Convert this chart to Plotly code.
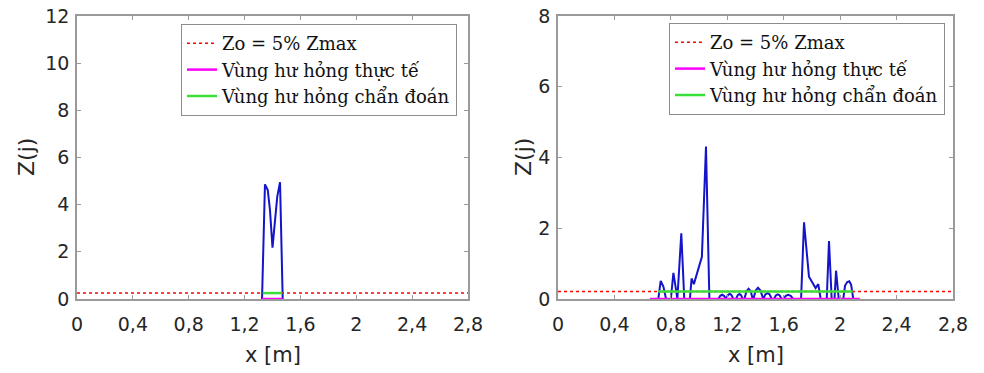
import plotly.graph_objects as go

# ---------------- data ----------------
x_ticks = [0, 0.4, 0.8, 1.2, 1.6, 2.0, 2.4, 2.8]
x_tick_labels = ["0", "0,4", "0,8", "1,2", "1,6", "2", "2,4", "2,8"]
y_ticks_left = [0, 2, 4, 6, 8, 10, 12]
y_ticks_right = [0, 2, 4, 6, 8]

# left panel: damage index Z(j) (zero elsewhere, hidden under the axis)
x_left = [1.325, 1.346, 1.366, 1.382, 1.400, 1.418, 1.434, 1.454, 1.473]
z_left = [0, 4.86, 4.62, 3.77, 2.18, 3.35, 4.34, 4.95, 0]
zo_left = 0.25
actual_left = [1.325, 1.473]
diag_left = [1.33, 1.47]

# right panel: damage index Z(j)
x_right = [0.711, 0.728, 0.747, 0.766, 0.800, 0.818, 0.837, 0.846, 0.874, 0.895,
           0.935, 0.947, 0.963, 1.006, 1.020, 1.049, 1.073,
           1.136, 1.150, 1.163, 1.177, 1.191, 1.204, 1.217, 1.230, 1.243,
           1.262, 1.274, 1.286, 1.298, 1.309,
           1.321, 1.336, 1.351, 1.366, 1.380,
           1.385, 1.401, 1.418, 1.435, 1.451,
           1.455, 1.470, 1.485, 1.500, 1.515,
           1.531, 1.544, 1.558, 1.572, 1.585,
           1.597, 1.615, 1.632, 1.650, 1.668,
           1.723, 1.744, 1.779, 1.810, 1.826, 1.845, 1.862,
           1.905, 1.921, 1.940, 1.960, 1.971, 1.990,
           2.022, 2.035, 2.050, 2.065, 2.078, 2.093]
z_right = [0, 0.51, 0.35, 0, 0, 0.74, 0.25, 0, 1.86, 0,
           0, 0.58, 0.42, 1.01, 1.19, 4.31, 0,
           0, 0.09, 0.12, 0.09, 0, 0.11, 0.15, 0.11, 0,
           0, 0.11, 0.14, 0.11, 0,
           0, 0.22, 0.29, 0.22, 0,
           0, 0.24, 0.32, 0.24, 0,
           0, 0.13, 0.17, 0.13, 0,
           0, 0.10, 0.13, 0.10, 0,
           0, 0.09, 0.12, 0.09, 0,
           0, 2.17, 0.63, 0.42, 0.31, 0.42, 0,
           0, 1.64, 0, 0, 0.80, 0,
           0, 0.38, 0.48, 0.50, 0.40, 0]
zo_right = 0.215
actual_right = [0.652, 2.14]
diag_right = [0.711, 2.089]

legend_names = ["Zo = 5% Zmax", "Vùng hư hỏng thực tế", "Vùng hư hỏng chẩn đoán"]

# ---------------- styles ----------------
BLUE = "#1414c8"
RED = "#ff0000"
MAGENTA = "#ff00ff"
GREEN = "#3ae03a"
AXIS = "#9a9a9a"
TICKC = "#262626"
SANS = "DejaVu Sans, Arial, sans-serif"
SERIF = "DejaVu Serif, Times New Roman, serif"

fig = go.Figure()

panels = [
    ("x", "y", "legend", x_left, z_left, zo_left, actual_left, diag_left),
    ("x2", "y2", "legend2", x_right, z_right, zo_right, actual_right, diag_right),
]
for xa, ya, lg, xs, zs, zo, act, dia in panels:
    fig.add_trace(go.Scatter(x=xs, y=zs, mode="lines", xaxis=xa, yaxis=ya,
                             line=dict(color=BLUE, width=2), showlegend=False))
    fig.add_trace(go.Scatter(x=[x_ticks[0], x_ticks[-1]], y=[zo, zo], mode="lines",
                             xaxis=xa, yaxis=ya, name=legend_names[0], legend=lg,
                             line=dict(color=RED, width=1.5, dash="dot")))
    fig.add_trace(go.Scatter(x=act, y=[0, 0], mode="lines", xaxis=xa, yaxis=ya,
                             name=legend_names[1], legend=lg, cliponaxis=False,
                             line=dict(color=MAGENTA, width=2.5)))
    fig.add_trace(go.Scatter(x=dia, y=[zo, zo], mode="lines", xaxis=xa, yaxis=ya,
                             name=legend_names[2], legend=lg,
                             line=dict(color=GREEN, width=2.5)))

W, H = 984, 373
T, B = 16, 74
PH = H - T - B


def xdom(a, b):
    return [a / W, b / W]


common_x = dict(range=[0, 2.8], tickvals=x_ticks, ticktext=x_tick_labels,
                showline=True, linecolor=AXIS, linewidth=1.5, mirror="ticks",
                ticks="inside", ticklen=4, tickcolor=AXIS, showgrid=False,
                zeroline=False, tickfont=dict(family=SANS, size=19, color=TICKC),
                ticklabelstandoff=7, automargin=False, fixedrange=True)
common_y = dict(showline=True, linecolor=AXIS, linewidth=1.5, mirror="ticks",
                ticks="inside", ticklen=4, tickcolor=AXIS, showgrid=False,
                zeroline=False, tickfont=dict(family=SANS, size=19, color=TICKC),
                ticklabelstandoff=2, automargin=False, fixedrange=True)

legend_common = dict(bgcolor="white", bordercolor="#8c8c8c", borderwidth=1,
                     font=dict(family=SERIF, size=18, color="#111111"),
                     xanchor="left", yanchor="top", tracegroupgap=0,
                     itemclick=False, itemdoubleclick=False)


def py(ypix):
    return 1 - (ypix - T) / PH


fig.update_layout(
    width=W, height=H,
    margin=dict(l=0, r=0, t=T, b=B, pad=0),
    paper_bgcolor="white", plot_bgcolor="white",
    xaxis=dict(domain=xdom(77, 468), anchor="y", **common_x),
    yaxis=dict(domain=[0, 1], anchor="x", range=[0, 12], tickvals=y_ticks_left, **common_y),
    xaxis2=dict(domain=xdom(558, 953), anchor="y2", **common_x),
    yaxis2=dict(domain=[0, 1], anchor="x2", range=[0, 8], tickvals=y_ticks_right, **common_y),
    legend=dict(x=181 / W, y=py(24), **legend_common),
    legend2=dict(x=669 / W, y=py(23), **legend_common),
    showlegend=True,
)

# axis titles
for cx, txt in [((77 + 468) / 2, "x [m]"), ((558 + 953) / 2, "x [m]")]:
    fig.add_annotation(x=cx / W, y=py(355), xref="paper", yref="paper", text=txt,
                       showarrow=False, xanchor="center", yanchor="middle",
                       font=dict(family=SANS, size=21, color=TICKC))
for cx in [26, 523]:
    fig.add_annotation(x=cx / W, y=py(157), xref="paper", yref="paper", text="Z(j)",
                       showarrow=False, xanchor="center", yanchor="middle", textangle=-90,
                       font=dict(family=SANS, size=22, color=TICKC))

fig.write_html("out.html")
